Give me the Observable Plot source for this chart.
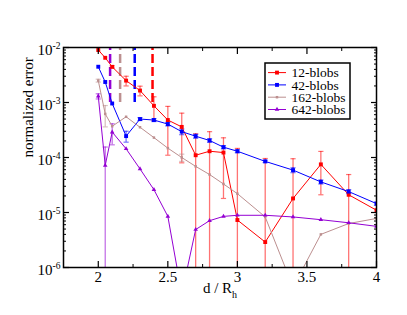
<!DOCTYPE html>
<html><head><meta charset="utf-8">
<script src="https://cdn.jsdelivr.net/npm/d3@7"></script>
<script src="https://cdn.jsdelivr.net/npm/@observablehq/plot@0.6"></script>
<style>
body{margin:0;background:#fff}
</style>
</head><body><div id="chart"></div>
<script>
// ---- data ----
const xs = [2.0, 2.05, 2.1, 2.2, 2.3, 2.4, 2.5, 2.6, 2.7, 2.8, 2.9, 3.0, 3.2, 3.4, 3.6, 3.8, 4.0];

const blobs12 = [9.0e-3, 6.5e-3, 4.45e-3, 2.5e-3, 1.65e-3, 8.7e-4, 4.8e-4, 3.6e-4, 1.1e-4, 1.3e-4, 1.23e-4, 7.3e-6, 2.9e-6, 1.8e-5, 7.5e-5, 2.1e-5, 1.1e-5];
const err12   = [0, 0, 2e-4, 5e-4, 3.3e-4, 4.0e-4, 3.7e-4, 2.8e-4, 1.6e-4, 1.65e-4, 1.05e-4, 1.39e-4, 9.3e-5, 7.7e-5, 5.4e-5, 2.8e-5, 0];

const blobs42 = [4.47e-3, 2.36e-3, 9.6e-4, 2.45e-4, 5.0e-4, 4.8e-4, 4.05e-4, 2.95e-4, 2.44e-4, 2.04e-4, 1.54e-4, 1.3e-4, 8.5e-5, 5.9e-5, 3.6e-5, 2.4e-5, 1.45e-5];
const err42   = [0, 0, 0, 5.5e-5, 3e-5, 3e-5, 3e-5, 3.5e-5, 2e-5, 1.5e-5, 1e-5, 8e-6, 4e-6, 6e-6, 3e-6, 2e-6, 1e-6];

const blobs162 = [2.5e-3, 6.2e-4, 3.7e-4, 5.5e-4, 3.55e-4, 2.3e-4, 1.48e-4, 1.0e-4, 6.9e-5, 4.9e-5, 3.3e-5, 2.2e-5, 8.3e-6, 4.4e-7, 4.0e-6, 6.3e-6, 7.8e-6];
const err162   = [1.5e-4, 2.6e-4, 0, 0, 0, 0, 0, 1.5e-5, 0, 0, 0, 0, 0, 0, 0, 0, 0];

const blobs642 = [1.3e-3, 7.2e-5, 2.9e-4, 1.44e-4, 6.2e-5, 2.6e-5, 8.5e-6, 3.3e-7, 4.9e-6, 7.1e-6, 8.5e-6, 8.9e-6, 8.9e-6, 8.3e-6, 7.4e-6, 6.5e-6, 5.6e-6];
const err642   = [1.4e-4, 8.3e-5, 1.2e-4, 0, 0, 0, 0, 0, 0, 0, 0, 0, 0, 0, 0, 0, 0];

const seriesNames = ["12-blobs", "42-blobs", "162-blobs", "642-blobs"];
const seriesColors = ["#ff0000", "#0000ff", "#bc8f8f", "#9400d3"];

// vertical dashed markers (one per series)
const dashX = [2.39, 2.262, 2.157, 2.085];
const dashLo = [1e-3, 1e-3, 1e-3, 1e-3];
const dashHi = [1e-2, 1e-2, 1e-2, 1e-2];

const yMajor = [1e-6, 1e-5, 1e-4, 1e-3, 1e-2];
const yLabels = ["10^-6", "10^-5", "10^-4", "10^-3", "10^-2"];
const xMajor = [2, 2.5, 3, 3.5, 4];
const xLabels = ["2", "2.5", "3", "3.5", "4"];
const xMinor = [2.25, 2.75, 3.25, 3.75];
const yMinor = [];
for (let e = -6; e < -2; e++) for (let m = 2; m <= 9; m++) yMinor.push(m * Math.pow(10, e));

// ---- pick an installed serif font ----
function pickSerif() {
  const ctx = document.createElement("canvas").getContext("2d");
  const probe = "mmmmmwwwlli 12-blobs 0.5";
  const cands = ["Liberation Serif", "Times New Roman", "Tinos", "Times", "Nimbus Roman", "DejaVu Serif", "Noto Serif"];
  for (const base of ["monospace", "sans-serif"]) {
    ctx.font = `72px ${base}`;
    const w0 = ctx.measureText(probe).width;
    for (const c of cands) {
      ctx.font = `72px "${c}", ${base}`;
      if (Math.abs(ctx.measureText(probe).width - w0) > 0.5) return `"${c}", serif`;
    }
  }
  return "serif";
}
const FONT = pickSerif();
const st = document.createElement("style");
st.textContent = `svg, svg text, svg tspan { font-family: ${FONT} !important; }`;
document.head.appendChild(st);

// ---- build ----
const valuesBy = [blobs12, blobs42, blobs162, blobs642];
const errsBy = [err12, err42, err162, err642];
const symbols = ["square", "square", "square", "triangle"];
const radii = [2.2, 2.2, 1.4, 1.7];

const rows = seriesNames.map((name, si) => xs.map((x, i) => ({
  series: name, x, y: valuesBy[si][i], e: errsBy[si][i]
})));
const bars = rows.map(r => r.filter(d => d.e > 0).map(d => ({
  ...d, lo: Math.max(d.y - d.e, 1e-9), hi: d.y + d.e
})));
const dashes = dashX.map((x, i) => ({x, lo: dashLo[i], hi: dashHi[i], color: seriesColors[i]}));

const capSymbol = {draw(ctx, size) { const r = Math.sqrt(size / Math.PI); ctx.moveTo(-r, 0); ctx.lineTo(r, 0); }};

const marks = [];
marks.push(Plot.ruleX(dashes, {x: "x", y1: "lo", y2: "hi", stroke: "color", strokeWidth: 2.5, strokeDasharray: "9,4"}));
seriesNames.forEach((name, si) => {
  const c = seriesColors[si];
  marks.push(Plot.ruleX(bars[si], {x: "x", y1: "lo", y2: "hi", stroke: c, strokeOpacity: 0.55, strokeWidth: 1.3, clip: "frame"}));
  marks.push(Plot.dot(bars[si], {x: "x", y: "hi", symbol: capSymbol, r: 2.6, stroke: c, strokeOpacity: 0.55, strokeWidth: 1.2, clip: "frame"}));
  marks.push(Plot.dot(bars[si], {x: "x", y: "lo", symbol: capSymbol, r: 2.6, stroke: c, strokeOpacity: 0.55, strokeWidth: 1.2, clip: "frame"}));
});
seriesNames.forEach((name, si) => {
  const c = seriesColors[si];
  marks.push(Plot.line(rows[si], {x: "x", y: "y", stroke: c, strokeWidth: 1, clip: "frame"}));
  marks.push(Plot.dot(rows[si], {x: "x", y: "y", symbol: symbols[si], r: radii[si], fill: c, stroke: "none", clip: "frame"}));
});

// axes: labels
marks.push(Plot.axisY({anchor: "left", ticks: yMajor, tickSize: 0, tickPadding: 3, fontSize: 15, dy: 3, fontFamily: FONT,
  tickFormat: d => yLabels[yMajor.indexOf(d)]}));
marks.push(Plot.axisX({anchor: "bottom", ticks: xMajor, tickSize: 0, tickPadding: 4, fontSize: 15, fontFamily: FONT,
  tickFormat: d => xLabels[xMajor.indexOf(d)]}));
// inward ticks on all four sides
marks.push(Plot.axisY({anchor: "left", ticks: yMajor, tickSize: 6, dx: 6, tickFormat: () => "", strokeWidth: 1.2}));
marks.push(Plot.axisY({anchor: "left", ticks: yMinor, tickSize: 3, dx: 3, tickFormat: () => "", strokeWidth: 1}));
marks.push(Plot.axisY({anchor: "right", ticks: yMajor, tickSize: 6, dx: -6, tickFormat: () => "", strokeWidth: 1.2}));
marks.push(Plot.axisY({anchor: "right", ticks: yMinor, tickSize: 3, dx: -3, tickFormat: () => "", strokeWidth: 1}));
marks.push(Plot.axisX({anchor: "bottom", ticks: xMajor, tickSize: 6, dy: -6, tickFormat: () => "", strokeWidth: 1.2}));
marks.push(Plot.axisX({anchor: "bottom", ticks: xMinor, tickSize: 3, dy: -3, tickFormat: () => "", strokeWidth: 1}));
marks.push(Plot.axisX({anchor: "top", ticks: xMajor, tickSize: 6, dy: 6, tickFormat: () => "", strokeWidth: 1.2}));
marks.push(Plot.axisX({anchor: "top", ticks: xMinor, tickSize: 3, dy: 3, tickFormat: () => "", strokeWidth: 1}));
marks.push(Plot.frame({stroke: "black", strokeWidth: 1.5}));
// axis titles
marks.push(Plot.text(["normalized error"], {frameAnchor: "left", rotate: -90, dx: -35, fontSize: 15, fill: "black", fontFamily: FONT}));
marks.push(Plot.text(["d / R"], {frameAnchor: "bottom", dy: 25, fontSize: 15, fill: "black", fontFamily: FONT, className: "xtitle"}));

const chart = Plot.plot({
  width: 407, height: 315,
  marginLeft: 63, marginRight: 31, marginTop: 47, marginBottom: 48,
  style: {fontFamily: FONT, background: "#fff", color: "black"},
  x: {domain: [1.75, 4], label: null},
  y: {type: "log", domain: [1e-6, 1e-2], label: null},
  marks
});
document.getElementById("chart").appendChild(chart);

// ---- post-process: superscripts, subscript, legend ----
const svg = d3.select(chart);
svg.selectAll('g[aria-label="y-axis tick label"] text').each(function() {
  const t = d3.select(this);
  const s = t.text();
  if (!s.includes("^")) return;
  const [base, exp] = s.split("^");
  t.text(null);
  t.append("tspan").text(base);
  t.append("tspan").attr("font-size", 9.5).attr("dy", -6).text(exp);
});
svg.selectAll('.xtitle text, g.xtitle text').each(function() {
  const t = d3.select(this);
  if (t.select("tspan.sub").size()) return;
  t.append("tspan").attr("class", "sub").attr("font-size", 10).attr("dy", 5).text("h");
});

const lg = svg.append("g").attr("font-size", 13.5).attr("font-family", FONT).attr("text-anchor", "start");
lg.append("rect").attr("x", 265).attr("y", 63).attr("width", 85).attr("height", 56)
  .attr("fill", "white").attr("stroke", "black").attr("stroke-width", 1.5);
seriesNames.forEach((name, i) => {
  const y = 72.6 + i * 12.3;
  lg.append("line").attr("x1", 268).attr("x2", 286).attr("y1", y).attr("y2", y)
    .attr("stroke", seriesColors[i]).attr("stroke-width", 1);
  lg.append("path").attr("transform", `translate(277,${y})`)
    .attr("d", d3.symbol(symbols[i] === "triangle" ? d3.symbolTriangle : d3.symbolSquare, Math.PI * radii[i] * radii[i])())
    .attr("fill", seriesColors[i]);
  lg.append("text").attr("x", 291.5).attr("y", y).attr("dy", "0.35em").attr("text-anchor", "start").text(name);
});
</script>
</body></html>
